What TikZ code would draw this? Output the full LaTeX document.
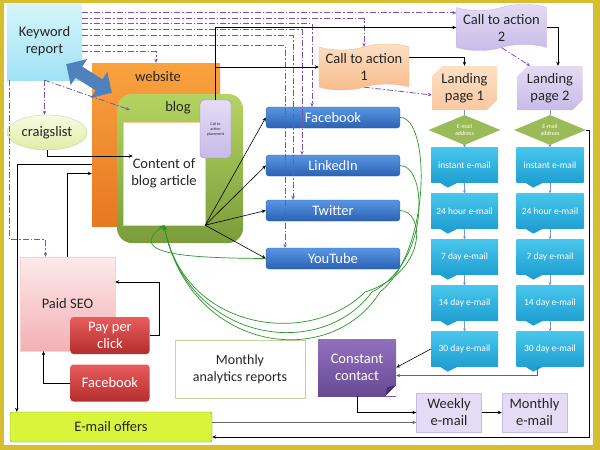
\documentclass[tikz,border=0pt]{standalone}
\usepackage{fontspec}
\setmainfont{Carlito}
\usetikzlibrary{arrows.meta,shapes.geometric,shapes.symbols,shapes.misc}

\definecolor{framegold}{RGB}{214,190,48}
\definecolor{kwtop}{RGB}{214,245,251}
\definecolor{kwbot}{RGB}{160,226,244}
\definecolor{webtop}{RGB}{249,162,62}
\definecolor{webbot}{RGB}{230,120,34}
\definecolor{blogtop}{RGB}{180,212,98}
\definecolor{blogbot}{RGB}{122,156,58}
\definecolor{lilac}{RGB}{228,220,245}
\definecolor{lilacdk}{RGB}{200,186,232}
\definecolor{peach}{RGB}{253,224,196}
\definecolor{peachdk}{RGB}{248,186,138}
\definecolor{leaf}{RGB}{155,187,89}
\definecolor{craigtop}{RGB}{248,251,226}
\definecolor{craigbot}{RGB}{224,236,166}
\definecolor{mailtop}{RGB}{72,198,236}
\definecolor{mailbot}{RGB}{32,160,210}
\definecolor{socialtop}{RGB}{88,150,226}
\definecolor{socialbot}{RGB}{44,98,180}
\definecolor{redtop}{RGB}{232,92,92}
\definecolor{redbot}{RGB}{180,46,46}
\definecolor{pinktop}{RGB}{253,234,234}
\definecolor{pinkbot}{RGB}{243,176,180}
\definecolor{cctop}{RGB}{146,112,190}
\definecolor{ccbot}{RGB}{104,74,148}
\definecolor{offers}{RGB}{216,245,60}
\definecolor{kwline}{RGB}{128,80,176}
\definecolor{loopgreen}{RGB}{40,150,40}
\definecolor{chainblue}{RGB}{120,150,200}
\definecolor{arrowblue}{RGB}{79,129,189}

\begin{document}
\begin{tikzpicture}[x=1pt,y=-1pt,
    every node/.style={align=center,inner sep=0pt,text=black!85,font=\fontsize{14.5}{17}\selectfont},
    dashline/.style={kwline,line width=0.8pt,dash pattern=on 6pt off 2pt on 1.5pt off 2pt,-{Stealth[length=4pt,width=3.5pt]}},
    link/.style={black,line width=0.6pt,-{Stealth[length=4pt,width=3.5pt]}},
    greyline/.style={gray!80!black,line width=1pt,-{Stealth[length=4pt,width=3.5pt]}},
    feedback/.style={loopgreen,line width=0.7pt,-{Stealth[length=5pt,width=4pt]}},
    chain/.style={chainblue,line width=0.8pt,-{Stealth[length=3pt,width=3pt]}},
    social/.style={rounded corners=3pt,top color=socialtop,bottom color=socialbot,draw=socialbot,text=white,minimum width=134pt,minimum height=21pt},
    mailbox/.style={top color=mailtop,bottom color=mailbot,text=white,font=\fontsize{9.5}{11}\selectfont,minimum width=67pt,minimum height=35pt},
    redbox/.style={rounded corners=3pt,top color=redtop,bottom color=redbot,text=white,minimum width=79pt,minimum height=37pt},
    calltape/.style={tape,tape bend height=6pt,minimum width=90pt,minimum height=46pt},
    landing/.style={chamfered rectangle,chamfered rectangle corners={north west,south east},chamfered rectangle xsep=5pt,chamfered rectangle ysep=5pt,minimum width=65pt,minimum height=44pt},
    address/.style={diamond,aspect=2.5,fill=leaf,text=white,font=\fontsize{6}{7}\selectfont,minimum width=72pt,minimum height=30pt},
    softbox/.style={fill=lilac,draw=lilacdk,minimum width=65pt,minimum height=39pt}]

    \fill[framegold] (0,0) rectangle (600,450);
    \fill[white] (4,3) rectangle (593,445);

    \node[top color=kwtop,bottom color=kwbot,minimum width=75pt,minimum height=77pt] (kw) at (44.5,41.5) {Keyword\\report};
    \node[top color=webtop,bottom color=webbot,minimum width=128pt,minimum height=163pt] (web) at (156,144.5) {};
    \node (webname) at (158,77) {website};
    \node[rounded corners=15pt,top color=blogtop,bottom color=blogbot,minimum width=126pt,minimum height=149pt] (blog) at (180,168.5) {};
    \node (blogname) at (178,108) {blog};
    \node[fill=white,draw=orange!40,minimum width=82pt,minimum height=103pt] (content) at (164,173.5) {Content of\\blog article};
    \node[rounded corners=4pt,top color=lilac,bottom color=lilacdk,draw=lilacdk!80!black,minimum width=31pt,minimum height=58pt,font=\fontsize{4}{5}\selectfont] (ctap) at (215.5,129) {Call to\\action\\placement};
    \node[ellipse,top color=craigtop,bottom color=craigbot,draw=leaf!60,minimum width=80pt,minimum height=35pt] (crl) at (47,132.5) {craigslist};

    \node[calltape,top color=peach,bottom color=peachdk,draw=peachdk] (cta1) at (364,67) {Call to action\\1};
    \node[calltape,top color=lilac,bottom color=lilacdk,draw=lilacdk] (cta2) at (501.5,27.5) {Call to action\\2};
    \node[landing,top color=peach,bottom color=peachdk!80!white] (lp1) at (464.5,88) {Landing\\page 1};
    \node[landing,top color=lilac,bottom color=lilacdk] (lp2) at (550,88) {Landing\\page 2};
    \node[address] (ea1) at (464.5,130) {E-mail\\address};
    \node[address] (ea2) at (550,130) {E-mail\\address};

    \foreach \mail [count=\i from 0] in {instant e-mail,24 hour e-mail,7 day e-mail,14 day e-mail,30 day e-mail}{
        \node[mailbox] (ma\i) at (464.5,{165+46*\i}) {\mail};
        \node[mailbox] (mb\i) at (550,{165+46*\i}) {\mail};
        \fill[mailbot] ([xshift=9pt]ma\i.south west) -- ([xshift=17pt,yshift=-5pt]ma\i.south west) -- ([xshift=27pt]ma\i.south west) -- cycle;
        \fill[mailbot] ([xshift=9pt]mb\i.south west) -- ([xshift=17pt,yshift=-5pt]mb\i.south west) -- ([xshift=27pt]mb\i.south west) -- cycle;
    }

    \node[social] (fb) at (333,117.5) {Facebook};
    \node[social] (li) at (333,165.5) {LinkedIn};
    \node[social] (tw) at (333,210.5) {Twitter};
    \node[social] (yt) at (333,258.5) {YouTube};

    \node[top color=pinktop,bottom color=pinkbot,draw=pinkbot!60,minimum width=95pt,minimum height=94pt] (pseo) at (67.5,304) {Paid SEO};
    \node[redbox] (ppc) at (110,335.5) {Pay per\\click};
    \node[redbox] (fbad) at (110,383) {Facebook};
    \node[draw=leaf!60,line width=0.8pt,fill=white,minimum width=130pt,minimum height=58pt,font=\fontsize{14}{17}\selectfont] (report) at (240,369) {Monthly\\analytics reports};
    \node[top color=cctop,bottom color=ccbot,text=white,minimum width=78pt,minimum height=57pt] (cc) at (357,367.5) {Constant\\contact};
    \fill[white] (cc.south east) -- ([xshift=-11pt]cc.south east) -- ([yshift=11pt]cc.south east) -- cycle;
    \fill[ccbot!70!black] ([xshift=-11pt]cc.south east) -- ([yshift=11pt]cc.south east) -- ([xshift=-9pt,yshift=9pt]cc.south east) -- cycle;
    \node[softbox] (weekly) at (449,412.5) {Weekly\\e-mail};
    \node[softbox] (monthly) at (534.5,412.5) {Monthly\\e-mail};
    \node[fill=offers,draw=offers!60!black,rounded corners=2pt,minimum width=202pt,minimum height=30pt] (offers) at (111,427) {E-mail offers};

    \draw[arrowblue,line width=13pt,{Triangle[length=15pt,width=30pt]}-{Triangle[length=15pt,width=30pt]}] ([xshift=-16pt,yshift=16pt]kw.south east) -- ([xshift=20pt,yshift=-30pt]web.north west);

    \coordinate (k1) at ([yshift=-10pt]kw.north east);
    \coordinate (k2) at ([yshift=-16pt]kw.north east);
    \coordinate (k3) at ([yshift=-21pt]kw.north east);
    \coordinate (k4) at ([yshift=-27pt]kw.north east);
    \coordinate (k5) at ([yshift=-33pt]kw.north east);
    \coordinate (k6) at ([yshift=-43pt]kw.north east);
    \coordinate (k7) at ([yshift=-49pt]kw.north east);
    \draw[dashline] (k1) -- (k1 -| cta2.west);
    \draw[dashline] (k2) -| (cta1.north);
    \draw[dashline] (k3) -| ([xshift=-21pt]fb.north);
    \draw[dashline] (k4) -| ([xshift=-31pt]li.north);
    \draw[dashline] (k5) -| ([xshift=-40pt]tw.north);
    \draw[dashline] (k6) -| ([xshift=-48pt]yt.north);
    \draw[dashline] (k7) -| (web.north);
    \draw[dashline] (kw.south) -- (kw.south |- crl.north);
    \draw[dashline] (kw.south) -- ([xshift=13pt,yshift=-16pt]blog.north west);
    \draw[dashline] ([xshift=3pt]kw.south west) |- ([xshift=-22pt,yshift=17pt]pseo.north) -- ([xshift=-22pt]pseo.north);
    \draw[dashline] (cta1.south) -- ([yshift=-7pt]lp1.west);
    \draw[dashline] (cta2.south) -- ([xshift=-20pt]lp2.north);

    \draw[link] (ctap.north) |- (cta2.west);
    \draw[link] (ctap.north) |- (cta1.west);
    \draw[link] ([yshift=10pt]cta1.east) -| (lp1.north);
    \draw[link] (cta2.east) -| ([xshift=8pt]lp2.north);
    \draw[link] (crl.south) |- ([xshift=10pt,yshift=17.5pt]content.west);
    \draw[link] ([yshift=-20pt]web.west) -| ([xshift=7pt]offers.north west);
    \draw[link] (pseo.north) |- ([yshift=-29pt]web.west);
    \draw[link] (ppc.east) -- ++(10,0) |- ([yshift=22pt]pseo.east);
    \draw[link] (fbad.west) -| ([xshift=-24pt]pseo.south);
    \foreach \s in {fb,li,tw,yt}
        \draw[link] (content.south east) -- (\s.west);

    \draw[chain,-] (lp1.south) -- (ea1.north);
    \draw[chain,-] (lp2.south) -- (ea2.north);
    \draw[chain] (ea1.south) -- (ma0.north);
    \draw[chain] (ea2.south) -- (mb0.north);
    \foreach \i/\j in {0/1,1/2,2/3,3/4}{
        \draw[chain] (ma\i.south) -- (ma\j.north);
        \draw[chain] (mb\i.south) -- (mb\j.north);
    }

    \draw[link] (ma4.west) -- (cc.east);
    \draw[greyline] ([xshift=-13pt]mb4.south) |- ([yshift=-8pt]cc.east);
    \draw[link] (cc.south) |- (weekly.west);
    \draw[link] (weekly.east) -- (monthly.west);
    \coordinate (wkin) at ([yshift=-10pt]weekly.west);
    \draw[greyline] (offers.east |- wkin) -- (wkin);
    \draw[link] (ea2.east) -- ++(3,0) |- ([yshift=-10pt]offers.east);

    \draw[feedback] (fb.east) .. controls (430,117) and (432,250) .. (380,292) .. controls (330,372) and (190,352) .. (content.south);
    \draw[feedback] (li.east) .. controls (428,166) and (430,262) .. (372,292) .. controls (320,362) and (188,342) .. (content.south);
    \draw[feedback] (tw.east) .. controls (425,211) and (428,272) .. (365,292) .. controls (310,347) and (185,332) .. (content.south);
    \draw[feedback] (yt.west) .. controls (190,258) and (125,255) .. (content.south);
\end{tikzpicture}
\end{document}
